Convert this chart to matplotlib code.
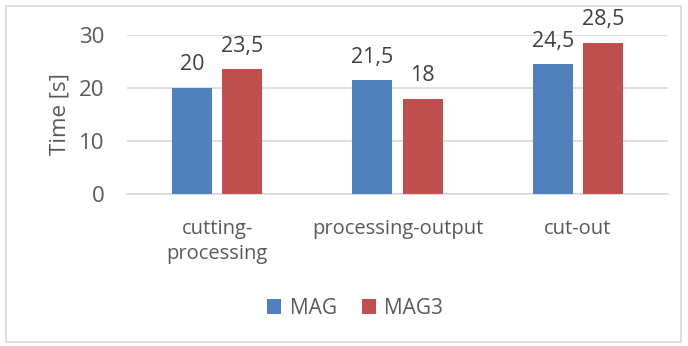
import numpy as np
import matplotlib.pyplot as plt
from matplotlib.patches import Rectangle

categories = ["cutting-\nprocessing", "processing-output", "cut-out"]
mag = [20, 21.5, 24.5]
mag3 = [23.5, 18, 28.5]
series_names = ["MAG", "MAG3"]
yticks = [0, 10, 20, 30]

plt.rcParams['font.family'] = ['Open Sans', 'DejaVu Sans']

blue = "#4f81bd"
red = "#c0504d"
grey = "#595959"

fig = plt.figure(figsize=(6.88, 3.46), dpi=100)
ax = fig.add_axes([127 / 688, 1 - 194 / 346, 541 / 688, 159 / 346])

x = np.arange(len(categories))
w = 0.222
off = 0.139
b1 = ax.bar(x - off, mag, w, color=blue, label=series_names[0], zorder=3)
b2 = ax.bar(x + off, mag3, w, color=red, label=series_names[1], zorder=3)

# value labels above each bar, decimal comma
for bars, vals in ((b1, mag), (b2, mag3)):
    for r, v in zip(bars, vals):
        txt = f"{v:g}".replace(".", ",")
        ax.annotate(txt, (r.get_x() + r.get_width() / 2, v), xytext=(0, 9),
                    textcoords="offset points", ha="center", va="bottom",
                    fontsize=15.5, color="#404040")

ax.set_xlim(-0.5, 2.5)
ax.set_ylim(0, 30)
ax.set_yticks(yticks)
ax.yaxis.grid(True, color="#d9d9d9", linewidth=1.2, zorder=0)
ax.set_xticks(x)
ax.set_xticklabels(categories, fontsize=14.5, color=grey, linespacing=1.35)
ax.tick_params(axis="y", labelsize=16, labelcolor=grey, length=0, pad=16)
ax.tick_params(axis="x", length=0, pad=18)
for s in ("top", "right", "left"):
    ax.spines[s].set_visible(False)
ax.spines["bottom"].set_color("#d9d9d9")
ax.spines["bottom"].set_linewidth(1.2)
ax.set_ylabel("Time [s]", fontsize=16, color=grey, labelpad=6)

fig.legend(loc="center", bbox_to_anchor=(355 / 688, 1 - 308 / 346), ncol=2,
           frameon=False, fontsize=15, labelcolor=grey, handlelength=0.7,
           handleheight=0.7, handletextpad=0.4, columnspacing=1.2)

fig.add_artist(Rectangle((6 / 688, 4 / 346), 675 / 688, 336 / 346,
                         transform=fig.transFigure, fill=False,
                         edgecolor="#d9d9d9", linewidth=1.2))

fig.savefig("out.png", dpi=100)
